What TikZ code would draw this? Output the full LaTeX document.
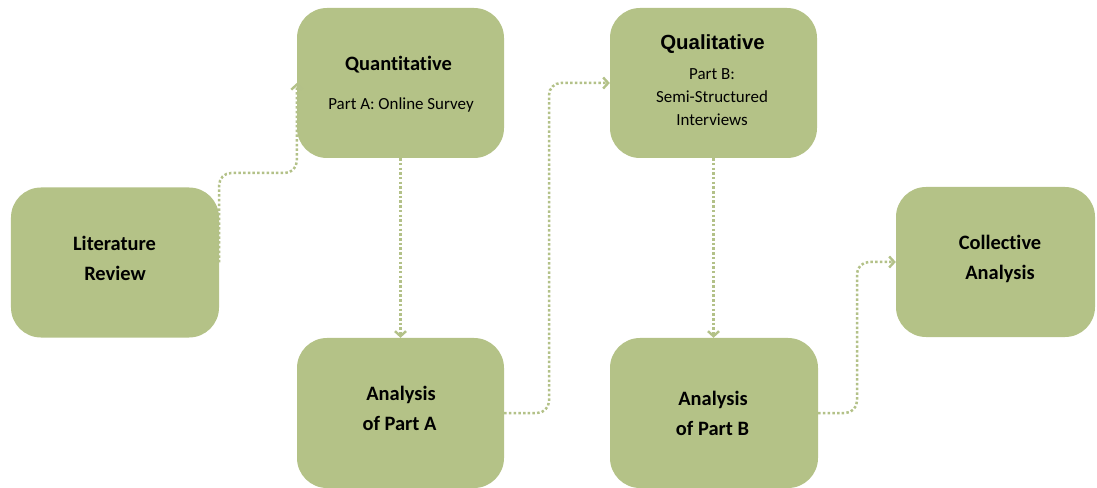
\documentclass[tikz,border=0pt]{standalone}
\usepackage{fontspec}
\setmainfont[Ligatures=NoCommon]{Carlito}
\newfontfamily\arialfont{Liberation Sans}
\usetikzlibrary{arrows.meta}
\definecolor{boxfill}{HTML}{B4C287}
\definecolor{dotcol}{HTML}{B3C188}
\begin{document}
\begin{tikzpicture}[x=1bp,y=-1bp,
  box/.style={draw=none, fill=boxfill, rounded corners=30bp, minimum width=#1, minimum height=150bp, inner sep=0pt},
  tb/.style={anchor=base, font=\fontsize{20.5}{24}\selectfont\bfseries, inner sep=0pt},
  ta/.style={anchor=base, font=\arialfont\fontsize{20.5}{24}\selectfont\bfseries, inner sep=0pt},
  ts/.style={anchor=base, font=\fontsize{17}{20}\selectfont, inner sep=0pt},
  conn/.style={draw=dotcol, line width=2.5bp, dash pattern=on 2.5bp off 2.2bp, rounded corners=12bp,
    -{Straight Barb[length=5bp,width=11bp,line width=2.4bp]}}]
\useasboundingbox (0,0) rectangle (1097,488);
% boxes
\node[box=208bp] (lit)   at (115,262.5) {};
\node[box=207bp] (quant) at (400.5,83) {};
\node[box=207bp] (anA)   at (400.5,413) {};
\node[box=207bp] (qual)  at (713.5,83) {};
\node[box=208bp] (anB)   at (714,413) {};
\node[box=199bp] (coll)  at (995.5,262) {};
% texts
\node[tb] (t1a) at (114.5,251) {Literature};
\node[tb] (t1b) at (115,281) {Review};
\node[tb] (t2a) at (398.5,71) {Quantitative};
\node[ts] (t2b) at (401,109.5) {Part A: Online Survey};
\node[tb] (t3a) at (401,400) {Analysis};
\node[tb] (t3b) at (399.5,430) {of Part A};
\node[ta] (t4a) at (712.5,50) {Qualitative};
\node[ts] (t4b) at (712,80) {Part B:};
\node[ts] (t4c) at (712,103) {Semi-Structured};
\node[ts] (t4d) at (712,126) {Interviews};
\node[tb] (t5a) at (713,405) {Analysis};
\node[tb] (t5b) at (712.5,435) {of Part B};
\node[tb] (t6a) at (1000,250) {Collective};
\node[tb] (t6b) at (1000,280) {Analysis};
% connector bends
\coordinate (c1) at (258,173);
\coordinate (c2) at (549,250);
\coordinate (c3) at (857,340);
% connectors
\draw[conn] (lit.east) |- (c1) -| (quant.west);
\draw[conn] (quant.south) -- (anA.north);
\draw[conn] (anA.east) -| (c2) |- (qual.west);
\draw[conn] (qual.south) -- (qual.south |- anB.north);
\draw[conn] (anB.east) -| (c3) |- (coll.west);
\end{tikzpicture}
\end{document}
